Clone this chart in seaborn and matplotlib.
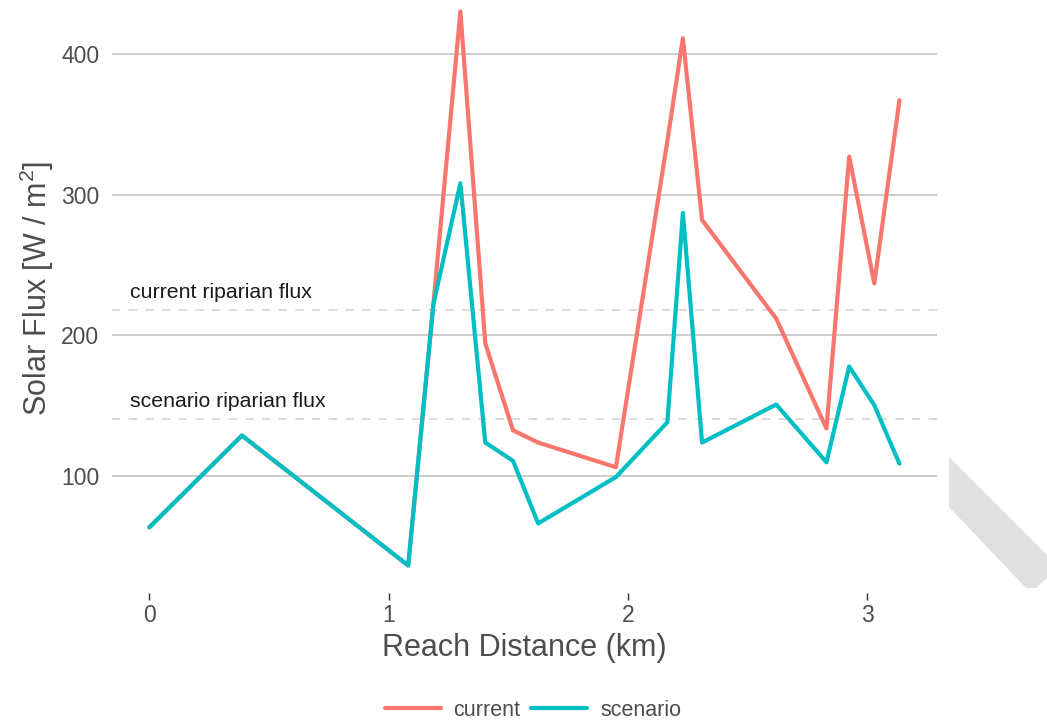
import matplotlib
matplotlib.use("Agg")
import matplotlib.pyplot as plt
import seaborn as sns
import pandas as pd
from matplotlib.patches import Polygon

# ---- data ----
distance_km = [0.0, 0.387, 1.082, 1.187, 1.30, 1.404, 1.52, 1.625, 1.95,
               2.165, 2.23, 2.31, 2.62, 2.83, 2.925, 3.03, 3.135]
current_flux = [63.8, 129, 36.7, 222, 430, 194.5, 132.7, 124, 106.5,
                338, 411, 282, 212, 134, 327, 237, 367]
scenario_flux = [63.8, 129, 36.7, 222, 308, 124, 111, 66.6, 99.5,
                 138.4, 287, 124, 151, 110, 178, 150.5, 109]
series_names = ["current", "scenario"]
series_colors = ["#F8766D", "#00BFC4"]
riparian_labels = ["current riparian flux", "scenario riparian flux"]
riparian_values = [218, 140.5]
x_ticks = [0, 1, 2, 3]
y_ticks = [100, 200, 300, 400]

df = pd.DataFrame({
    "distance": distance_km * 2,
    "flux": current_flux + scenario_flux,
    "series": [series_names[0]] * len(distance_km) + [series_names[1]] * len(distance_km),
})

sns.set_theme(style="white")
plt.rcParams["font.family"] = ["Liberation Sans", "DejaVu Sans"]
plt.rcParams["mathtext.fontset"] = "custom"
plt.rcParams["mathtext.rm"] = "Liberation Sans"
plt.rcParams["mathtext.it"] = "Liberation Sans:italic"

W, H = 1047, 723
fig = plt.figure(figsize=(W / 100, H / 100), dpi=100)
left, right, bottom, top = 112, 937, 593, -16
ax = fig.add_axes([left / W, (H - bottom) / H, (right - left) / W, (bottom - top) / H])

# gridlines & reference lines
for yv in y_ticks:
    ax.axhline(yv, color="#CCCCCC", lw=1.4, zorder=0)
for lab, val in zip(riparian_labels, riparian_values):
    ax.axhline(val, color="#D6D6D6", lw=1.2, ls=(0, (5, 5)), zorder=0.5)
    ax.text(-0.079, val + 8.5, lab, fontsize=15.3, color="#1a1a1a",
            ha="left", va="baseline")

sns.lineplot(data=df, x="distance", y="flux", hue="series",
             palette=dict(zip(series_names, series_colors)),
             hue_order=series_names, lw=3.0, ax=ax, sort=True, estimator=None)

ax.set_xlim(-0.156, 3.292)
ax.set_ylim(17.2, 449.5)
ax.set_xticks(x_ticks)
ax.set_yticks(y_ticks)
ax.tick_params(axis="x", length=5, width=1, color="#333333", pad=3,
               labelsize=16.5, labelcolor="#4D4D4D", bottom=True)
ax.tick_params(axis="y", length=0, pad=9, labelsize=16.5, labelcolor="#4D4D4D")
for s in ax.spines.values():
    s.set_visible(False)
ax.set_xlabel("Reach Distance (km)", fontsize=22, color="#4D4D4D", labelpad=4)
ax.set_ylabel("Solar Flux [W / m$^2$]", fontsize=22, color="#4D4D4D", labelpad=4)

handles, labels = ax.get_legend_handles_labels()
ax.get_legend().remove()
fig.legend(handles, labels, loc="center", bbox_to_anchor=(533 / W, 1 - 710 / H),
           ncol=2, frameon=False, fontsize=15.5, handlelength=2.6,
           handletextpad=0.6, columnspacing=0.5, labelcolor="#4D4D4D")

# decorative gray stripe at the right edge
pts = [(949, 457), (1047, 555), (1047, 578), (1036, 588), (1026, 588), (949, 507)]
fig.patches.append(Polygon([(x / W, 1 - y / H) for x, y in pts], closed=True,
                           transform=fig.transFigure, facecolor="#E0E0E0",
                           edgecolor="none", zorder=0))

fig.savefig("out.png", dpi=100)
